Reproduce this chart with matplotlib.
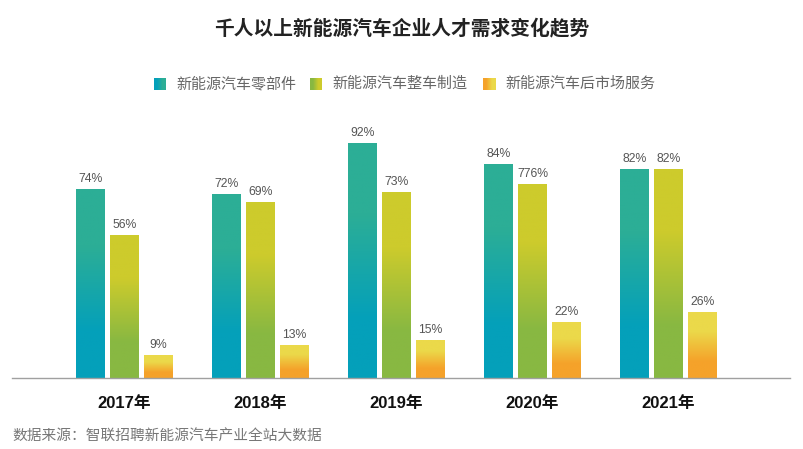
import matplotlib.pyplot as plt
import numpy as np
from matplotlib.colors import LinearSegmentedColormap

plt.rcParams['font.family'] = ['Liberation Sans', 'Noto Sans CJK SC', 'DejaVu Sans']

# data
years = ["2017年", "2018年", "2019年", "2020年", "2021年"]
series_names = ["新能源汽车零部件", "新能源汽车整车制造", "新能源汽车后市场服务"]
parts = [74, 72, 92, 84, 82]
vehicle = [56, 69, 73, 76, 82]
aftermarket = [9, 13, 15, 22, 26]
# labels as printed on the chart
parts_labels = ["74%", "72%", "92%", "84%", "82%"]
vehicle_labels = ["56%", "69%", "73%", "776%", "82%"]
aftermarket_labels = ["9%", "13%", "15%", "22%", "26%"]

title = "千人以上新能源汽车企业人才需求变化趋势"
source = "数据来源：智联招聘新能源汽车产业全站大数据"

# top colour, bottom colour of each gradient
grads = [("#2CAE96", "#04A0BA"), ("#CDCB2C", "#88B842"), ("#EBD94A", "#F5A22A")]
cmaps = [LinearSegmentedColormap.from_list("g%d" % i, [(0, b), (0.25, b), (0.7, t), (1, t)])
         for i, (t, b) in enumerate(grads)]
grad_img = np.linspace(0, 1, 256).reshape(-1, 1)

W, H = 804, 449
fig = plt.figure(figsize=(W / 100, H / 100), dpi=100)

# axes: baseline at y=378px, 100% at 123px, x from 12 to 790 px
ax = fig.add_axes([12 / W, (H - 378) / H, 778 / W, 255 / H])
step = 136.0

x = np.arange(len(years))
bw = 29 / step
off = 34 / step

for k, (vals, labs) in enumerate([(parts, parts_labels), (vehicle, vehicle_labels),
                                   (aftermarket, aftermarket_labels)]):
    bars = ax.bar(x + (k - 1) * off, vals, width=bw, color="none", edgecolor="none")
    for bar, lab in zip(bars, labs):
        x0, y0 = bar.get_x(), bar.get_y()
        w, h = bar.get_width(), bar.get_height()
        im = ax.imshow(grad_img, cmap=cmaps[k], extent=[x0, x0 + w, y0, y0 + h],
                       origin="lower", aspect="auto", zorder=2)
        im.set_clip_path(bar)
        ax.text(x0 + w / 2, h + 1.6, lab, ha="center", va="bottom",
                fontsize=8.8, color="#555555")

ax.set_xlim(-(124.5 - 12) / step, (790 - 124.5) / step)
ax.set_ylim(0, 100)

for s in ["top", "right", "left"]:
    ax.spines[s].set_visible(False)
ax.spines["bottom"].set_color("#A0A0A0")
ax.spines["bottom"].set_linewidth(1.0)
ax.set_yticks([])
ax.set_xticks(x)
ax.set_xticklabels(years, fontsize=12, fontweight="bold", color="#111111")
ax.tick_params(axis="x", length=0, pad=13)

fig.text(0.5, 1 - 28 / H, title, ha="center", va="center",
         fontsize=14.2, fontweight="bold", color="#222222")

# legend with gradient squares
leg_sq = [154, 310, 483]
for k, name in enumerate(series_names):
    lax = fig.add_axes([leg_sq[k] / W, (H - 90) / H, 12 / W, 12 / H])
    lax.imshow(grad_img.T, cmap=cmaps[k], aspect="auto")
    lax.axis("off")
    fig.text((leg_sq[k] + 22) / W, 1 - 84 / H, name, ha="left", va="center",
             fontsize=10.8, color="#666666")

fig.text(12 / W, 1 - 436 / H, source, ha="left", va="center",
         fontsize=10.6, color="#777777")

fig.savefig("out.png", dpi=100)
